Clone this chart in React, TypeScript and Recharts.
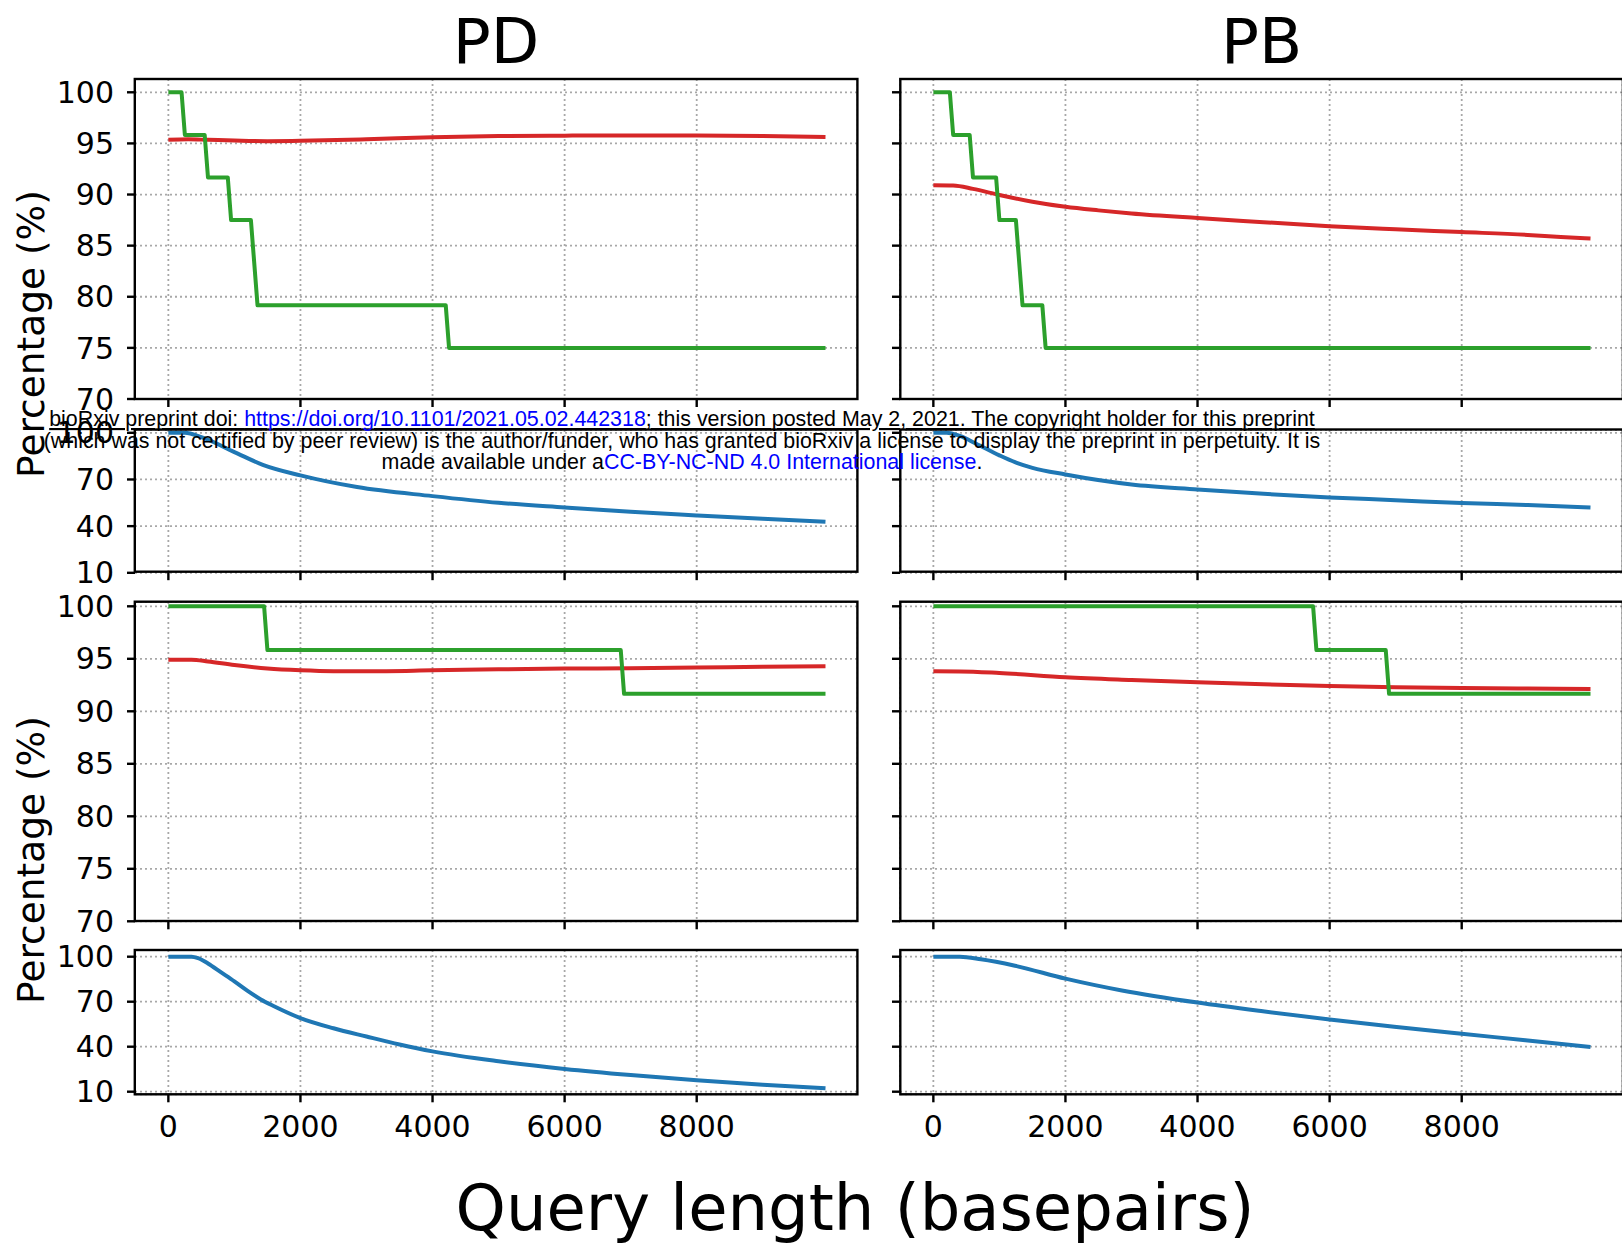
import { LineChart, Line, XAxis, YAxis, CartesianGrid } from "recharts";

type Pt = [number, number];

const columnTitles = ["PD", "PB"];
const xTicks = [0, 2000, 4000, 6000, 8000];
const pctTicks = [70, 75, 80, 85, 90, 95, 100];
const wideTicks = [10, 40, 70, 100];

// row 1 (x = query length, y = %)
const pdRow1Green: Pt[] = [
  [0, 100], [200, 100], [250, 95.83], [550, 95.83], [600, 91.67], [900, 91.67],
  [950, 87.5], [1250, 87.5], [1350, 79.17], [4200, 79.17], [4250, 75], [9950, 75],
];
const pdRow1Red: Pt[] = [
  [0, 95.35], [300, 95.4], [600, 95.35], [1000, 95.28], [1500, 95.22], [2000, 95.25],
  [3000, 95.4], [4000, 95.6], [5000, 95.72], [6000, 95.76], [7000, 95.78],
  [8000, 95.77], [9000, 95.72], [9950, 95.62],
];
const pbRow1Green: Pt[] = [
  [0, 100], [250, 100], [300, 95.83], [550, 95.83], [600, 91.67], [950, 91.67],
  [1000, 87.5], [1250, 87.5], [1350, 79.17], [1650, 79.17], [1700, 75], [9950, 75],
];
const pbRow1Red: Pt[] = [
  [0, 90.9], [300, 90.88], [600, 90.55], [1000, 89.95], [1500, 89.3], [2000, 88.8],
  [2500, 88.45], [3000, 88.15], [4000, 87.7], [5000, 87.3], [6000, 86.9],
  [7000, 86.6], [8000, 86.33], [9000, 86.05], [9500, 85.85], [9950, 85.7],
];

// row 2
const pdRow2Blue: Pt[] = [
  [0, 100], [250, 100], [500, 97.2], [1000, 87.6], [1430, 79.4], [2000, 72.6],
  [2857, 65.1], [4000, 59.3], [5000, 55], [6000, 52], [7000, 49.2], [8000, 46.9],
  [9000, 44.7], [9950, 42.8],
];
const pbRow2Blue: Pt[] = [
  [0, 100], [200, 100], [400, 98], [648, 93], [1000, 85.5], [1236, 81.1],
  [1500, 77.5], [2000, 73.2], [3000, 66.8], [4000, 63.6], [5000, 60.8],
  [6000, 58.4], [7000, 56.7], [8000, 54.8], [9000, 53.6], [9950, 52],
];

// row 3
const pdRow3Green: Pt[] = [
  [0, 100], [1450, 100], [1500, 95.83], [6850, 95.83], [6900, 91.67], [9950, 91.67],
];
const pdRow3Red: Pt[] = [
  [0, 94.92], [350, 94.92], [600, 94.75], [1000, 94.4], [1500, 94.07], [2000, 93.9],
  [2500, 93.82], [3000, 93.82], [4000, 93.9], [5000, 94.0], [6000, 94.07],
  [7000, 94.1], [8000, 94.16], [9000, 94.25], [9950, 94.29],
];
const pbRow3Green: Pt[] = [
  [0, 100], [5750, 100], [5800, 95.83], [6850, 95.83], [6900, 91.67], [9950, 91.67],
];
const pbRow3Red: Pt[] = [
  [0, 93.81], [400, 93.8], [1000, 93.65], [2000, 93.24], [3000, 92.98], [4000, 92.76],
  [5000, 92.57], [6000, 92.41], [7000, 92.3], [8000, 92.22], [9000, 92.17], [9950, 92.13],
];

// row 4
const pdRow4Blue: Pt[] = [
  [0, 100], [350, 100], [450, 99], [600, 95.5], [800, 89.5], [1000, 83.5],
  [1200, 77.2], [1400, 71.5], [1600, 67], [2000, 59.1], [2500, 52.3], [3000, 46.8],
  [3500, 41.5], [4000, 36.9], [5000, 30.3], [6000, 25.2], [7000, 21.1],
  [8000, 17.6], [9000, 14.6], [9950, 12.3],
];
const pbRow4Blue: Pt[] = [
  [0, 100], [400, 100], [721, 98.3], [1236, 94], [2000, 85.4], [2855, 77.5],
  [4000, 69.4], [4990, 63.6], [6000, 58.2], [6977, 53.3], [8000, 48.6],
  [8964, 44.3], [9950, 39.8],
];

const RED = "#d62728";
const GREEN = "#2ca02c";
const BLUE = "#1f77b4";

const xDomain: [number, number] = [-505, 10436];
const colLeft = [134.8, 900.3];
const plotW = 722.6;
const padTop = 25;
const rowBox = [
  { top: 79, h: 320, domain: [70, 101.3], ticks: pctTicks },
  { top: 429.5, h: 142.2, domain: [10.4, 101.8], ticks: wideTicks },
  { top: 601.7, h: 319.3, domain: [70, 100.41], ticks: pctTicks },
  { top: 950, h: 144.3, domain: [8.27, 104.47], ticks: wideTicks },
];

type Series = { pts: Pt[]; color: string; step?: boolean };

const panelSeries: Series[][][] = [
  [
    [{ pts: pdRow1Red, color: RED }, { pts: pdRow1Green, color: GREEN, step: true }],
    [{ pts: pbRow1Red, color: RED }, { pts: pbRow1Green, color: GREEN, step: true }],
  ],
  [[{ pts: pdRow2Blue, color: BLUE }], [{ pts: pbRow2Blue, color: BLUE }]],
  [
    [{ pts: pdRow3Red, color: RED }, { pts: pdRow3Green, color: GREEN, step: true }],
    [{ pts: pbRow3Red, color: RED }, { pts: pbRow3Green, color: GREEN, step: true }],
  ],
  [[{ pts: pdRow4Blue, color: BLUE }], [{ pts: pbRow4Blue, color: BLUE }]],
];

const tickFont = { fontSize: 30, fontFamily: "DejaVu Sans", fill: "#000" };
const tickLineStyle = { stroke: "#000", strokeWidth: 2.4 };
const noLabel = () => <g />;

const toRows = (pts: Pt[]) => pts.map(([x, y]) => ({ x, y }));

function Panel({ row, col }: { row: number; col: number }) {
  const box = rowBox[row];
  const yw = col === 0 ? 135 : 20;
  const xh = row === 3 ? 70 : 20;
  return (
    <div style={{ position: "absolute", left: colLeft[col] - yw, top: box.top - padTop }}>
      <LineChart
        width={plotW + yw}
        height={box.h + xh + padTop}
        margin={{ top: padTop, right: 0, bottom: 0, left: 0 }}
      >
        <CartesianGrid stroke="#a8a8a8" strokeDasharray="2 3" strokeWidth={1.8} />
        <XAxis
          type="number"
          dataKey="x"
          domain={xDomain}
          ticks={xTicks}
          allowDataOverflow
          interval={0}
          height={xh}
          tickSize={8}
          tickMargin={13}
          axisLine={false}
          tickLine={tickLineStyle}
          tick={row === 3 ? tickFont : noLabel}
        />
        <YAxis
          type="number"
          domain={box.domain}
          ticks={box.ticks}
          allowDataOverflow
          interval={0}
          width={yw}
          tickSize={8}
          tickMargin={13}
          axisLine={false}
          tickLine={tickLineStyle}
          tick={col === 0 ? tickFont : noLabel}
        />
        {panelSeries[row][col].map((s, i) => (
          <Line
            key={i}
            data={toRows(s.pts)}
            dataKey="y"
            type={s.step ? "linear" : "monotone"}
            stroke={s.color}
            strokeWidth={4}
            strokeLinejoin="round"
            dot={false}
            activeDot={false}
            isAnimationActive={false}
          />
        ))}
      </LineChart>
    </div>
  );
}

export default function App() {
  const blue = "#0000ff";
  return (
    <div
      style={{
        position: "absolute",
        left: 0,
        top: 0,
        width: 1622,
        height: 1249,
        overflow: "hidden",
        background: "#fff",
      }}
    >
      {rowBox.map((_, r) =>
        colLeft.map((_, c) => <Panel key={`${r}-${c}`} row={r} col={c} />)
      )}
      <svg
        width={1622}
        height={1249}
        style={{ position: "absolute", left: 0, top: 0, pointerEvents: "none" }}
      >
        {rowBox.map((b, r) =>
          colLeft.map((l, c) => (
            <rect
              key={`f${r}-${c}`}
              x={l}
              y={b.top}
              width={plotW}
              height={b.h}
              fill="none"
              stroke="#000"
              strokeWidth={2.4}
            />
          ))
        )}
        <g fontFamily="DejaVu Sans" fill="#000">
          {columnTitles.map((t, c) => (
            <text key={t} x={colLeft[c] + plotW / 2} y={62.7} fontSize={63} textAnchor="middle">
              {t}
            </text>
          ))}
          <text x={855} y={1230} fontSize={64} textAnchor="middle">
            Query length (basepairs)
          </text>
          <text transform="translate(44,334) rotate(-90)" fontSize={37.5} textAnchor="middle">
            Percentage (%)
          </text>
          <text transform="translate(44,860) rotate(-90)" fontSize={37.5} textAnchor="middle">
            Percentage (%)
          </text>
        </g>
        <g fontFamily="Liberation Sans" fontSize={21.4} fill="#000" textAnchor="middle">
          <text x={682} y={426} style={{ textDecoration: "underline" }}>
            bioRxiv preprint doi: <tspan fill={blue}>https://doi.org/10.1101/2021.05.02.442318</tspan>; this version posted May 2, 2021. The copyright holder for this preprint
          </text>
          <text x={682} y={448}>
            (which was not certified by peer review) is the author/funder, who has granted bioRxiv a license to display the preprint in perpetuity. It is
          </text>
          <text x={682} y={469}>
            made available under a<tspan fill={blue}>CC-BY-NC-ND 4.0 International license</tspan>.
          </text>
        </g>
      </svg>
    </div>
  );
}
